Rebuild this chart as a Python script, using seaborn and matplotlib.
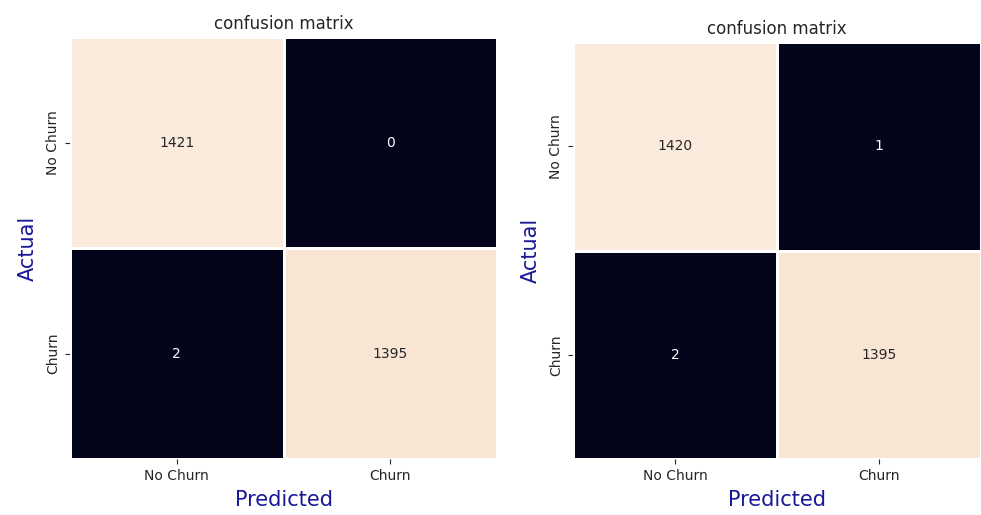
import numpy as np
import seaborn as sns
import matplotlib.pyplot as plt

# confusion matrices
labels = ['No Churn', 'Churn']
cm_left = np.array([[1421, 0],
                    [2, 1395]])
cm_right = np.array([[1420, 1],
                     [2, 1395]])

sns.set_style('white')
plt.rcParams['text.color'] = '.15'
plt.rcParams['xtick.color'] = '.15'
plt.rcParams['ytick.color'] = '.15'

fig = plt.figure(figsize=(9.81, 5.15), dpi=100)
ax1 = fig.add_axes([0.0714, 0.1087, 0.4353, 0.8194])
ax2 = fig.add_axes([0.5841, 0.1087, 0.4159, 0.8097])

for ax, cm in [(ax1, cm_left), (ax2, cm_right)]:
    sns.heatmap(cm, annot=True, fmt='d', cmap='rocket', cbar=False,
                linewidths=1, linecolor='white',
                xticklabels=labels, yticklabels=labels, ax=ax)
    ax.set_title('confusion matrix', fontsize=12, pad=6)
    ax.set_xlabel('Predicted', fontsize=15, color='darkblue', alpha=0.9, labelpad=5)
    ax.set_ylabel('Actual', fontsize=15, color='darkblue', alpha=0.9, labelpad=6)
    ax.tick_params(axis='both', bottom=True, left=True, length=3.5, width=0.8,
                   labelsize=10, color='.15')
    ax.tick_params(axis='y', rotation=90)
    for lab in ax.get_yticklabels():
        lab.set_va('center')

fig.savefig('out.png', dpi=100)
